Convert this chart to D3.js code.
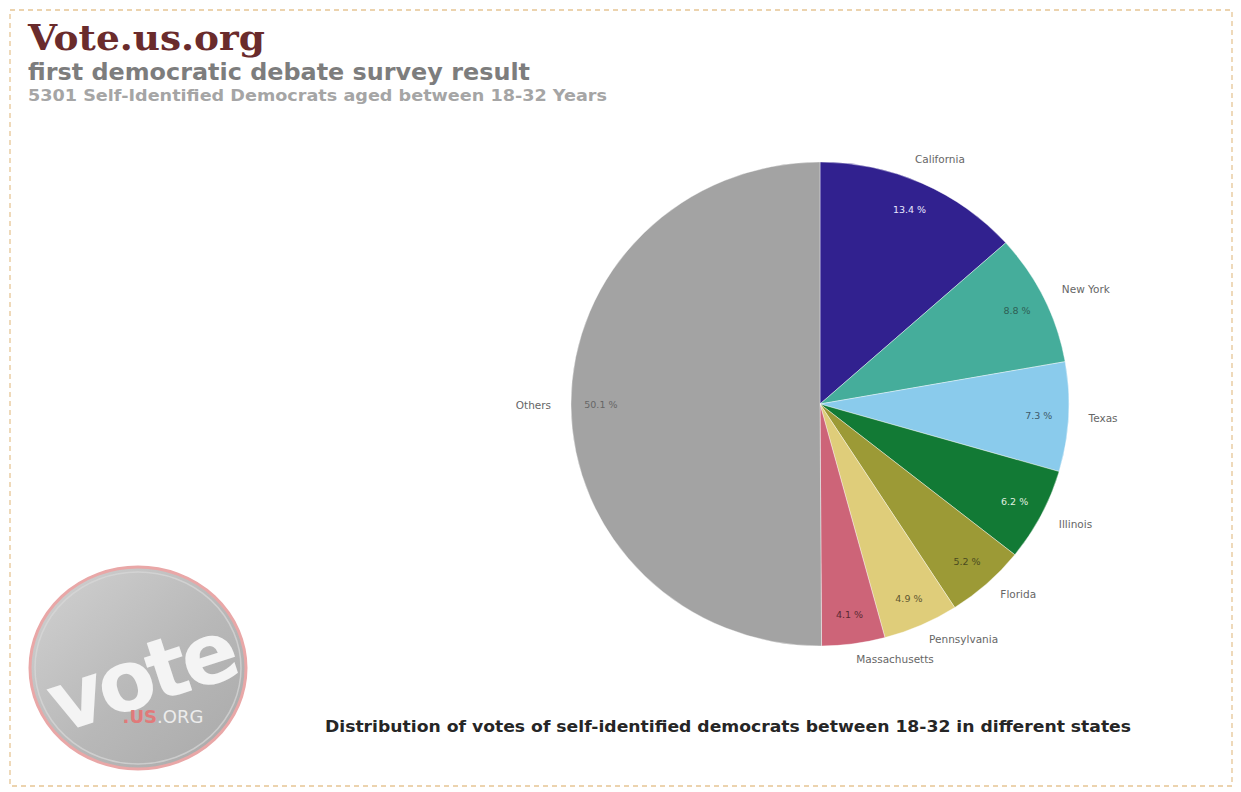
<!DOCTYPE html>
<html>
<head>
<meta charset="utf-8">
<script src="https://cdn.jsdelivr.net/npm/d3@7/dist/d3.min.js"></script>
<style>
html,body{margin:0;padding:0;background:#fff;}
svg{display:block;}
</style>
</head>
<body>
<svg id="chart" width="1241" height="792"></svg>
<script>
const categories = ["California","New York","Texas","Illinois","Florida","Pennsylvania","Massachusetts","Others"];
const values = [13.4, 8.8, 7.3, 6.2, 5.2, 4.9, 4.1, 50.1];
const colors = ["#31218f","#45ad9b","#8acbec","#127a35","#9c9a36","#dfcd7a","#cd6478","#a3a3a3"];
const valueTextColors = ["#e8e8ff","#2f5f55","#3d5a6a","#e0f0e0","#4a4a20","#5e5630","#5a2a33","#666"];
const titleText = "Vote.us.org";
const subtitleText = "first democratic debate survey result";
const subsubText = "5301 Self-Identified Democrats aged between 18-32 Years";
const captionText = "Distribution of votes of self-identified democrats between 18-32 in different states";

const svg = d3.select("#chart");

// dashed frame
svg.append("rect").attr("x",10).attr("y",10).attr("width",1222).attr("height",776)
  .attr("fill","none").attr("stroke","#e6c594").attr("stroke-width",1.3).attr("stroke-dasharray","5,4");

// titles
svg.append("text").attr("x",28).attr("y",50).text(titleText)
  .attr("font-family","'DejaVu Serif', serif").attr("font-weight","bold").attr("font-size",36)
  .attr("fill","#6a2b2c").attr("textLength",237).attr("lengthAdjust","spacingAndGlyphs");
svg.append("text").attr("x",28).attr("y",80).text(subtitleText)
  .attr("font-family","'DejaVu Sans', sans-serif").attr("font-weight","bold").attr("font-size",23)
  .attr("fill","#7d7d7d").attr("textLength",502).attr("lengthAdjust","spacingAndGlyphs");
svg.append("text").attr("x",28).attr("y",101).text(subsubText)
  .attr("font-family","'DejaVu Sans', sans-serif").attr("font-weight","bold").attr("font-size",15)
  .attr("fill","#a5a5a5").attr("textLength",579).attr("lengthAdjust","spacingAndGlyphs");

// pie
const cx = 820, cy = 404, r = 245, sx = 249/245, sy = 242/245;
const data = categories.map((c,i)=>({name:c, value:values[i], color:colors[i], tc:valueTextColors[i]}));
const pie = d3.pie().value(d=>d.value).sort(null);
const arcs = pie(data);
const arc = d3.arc().innerRadius(0).outerRadius(r);
const g = svg.append("g").attr("transform",`translate(${cx},${cy})`);
const gs = g.append("g").attr("transform",`scale(${sx},${sy})`);
gs.selectAll("path").data(arcs).join("path")
  .attr("d",arc).attr("fill",d=>d.data.color).attr("stroke","#fff").attr("stroke-width",0.4);

const inArc = d3.arc().innerRadius(r*0.88).outerRadius(r*0.88);
g.selectAll("text.val").data(arcs).join("text").attr("class","val")
  .attr("x",d=>inArc.centroid(d)[0]*sx).attr("y",d=>inArc.centroid(d)[1]*sy)
  .attr("text-anchor","middle").attr("dy","0.35em")
  .attr("font-family","'DejaVu Sans', sans-serif").attr("font-size",9.5)
  .attr("fill",d=>d.data.tc)
  .text(d=>d.data.value.toFixed(1)+" %");

const outArc = d3.arc().innerRadius(r*1.08).outerRadius(r*1.08);
const midA = d=>(d.startAngle+d.endAngle)/2;
g.selectAll("text.lab").data(arcs).join("text").attr("class","lab")
  .attr("x",d=>outArc.centroid(d)[0]*sx)
  .attr("y",d=>{const m=midA(d); const off = m<0.6 ? -6 : (m<2.2 || m>Math.PI ? 0 : -4); return outArc.centroid(d)[1]*sy + off;})
  .attr("text-anchor",d=>{const m=midA(d); if(m<0.6) return "middle"; return m<Math.PI ? "start" : "end";})
  .attr("dx",d=>midA(d)<0.6 ? 10 : 0)
  .attr("dy","0.35em")
  .attr("font-family","'DejaVu Sans', sans-serif").attr("font-size",10.5)
  .attr("fill","#666")
  .text(d=>d.data.name);

// caption
svg.append("text").attr("x",728).attr("y",732).attr("text-anchor","middle").text(captionText)
  .attr("font-family","'DejaVu Sans', sans-serif").attr("font-weight","bold").attr("font-size",16)
  .attr("fill","#262626").attr("textLength",806).attr("lengthAdjust","spacingAndGlyphs");

// logo
const defs = svg.append("defs");
const lg = defs.append("linearGradient").attr("id","lg").attr("x1","0").attr("y1","0").attr("x2","1").attr("y2","1");
lg.append("stop").attr("offset","0").attr("stop-color","#d2d2d2");
lg.append("stop").attr("offset","0.55").attr("stop-color","#b8b8b8");
lg.append("stop").attr("offset","1").attr("stop-color","#a9a9a9");
const logo = svg.append("g").attr("transform","translate(138,668)");
logo.append("ellipse").attr("rx",108).attr("ry",101).attr("fill","url(#lg)")
  .attr("stroke","#e9a7a7").attr("stroke-width",3);
logo.append("ellipse").attr("rx",103).attr("ry",96).attr("fill","none")
  .attr("stroke","#d9d9d9").attr("stroke-width",1.5).attr("opacity",0.7);
logo.append("text").attr("x",0).attr("y",38).attr("text-anchor","middle").text("vote")
  .attr("font-family","'DejaVu Sans', sans-serif").attr("font-weight","bold").attr("font-size",84)
  .attr("fill","#f4f4f4").attr("transform","rotate(-18)").attr("letter-spacing",-5);
const t2 = logo.append("text").attr("x",25).attr("y",55).attr("text-anchor","middle")
  .attr("font-family","'DejaVu Sans', sans-serif").attr("font-weight","bold").attr("font-size",18);
t2.append("tspan").text(".US").attr("fill","#e07a7a");
t2.append("tspan").text(".ORG").attr("fill","#ececec").attr("font-weight","normal");
</script>
</body>
</html>
